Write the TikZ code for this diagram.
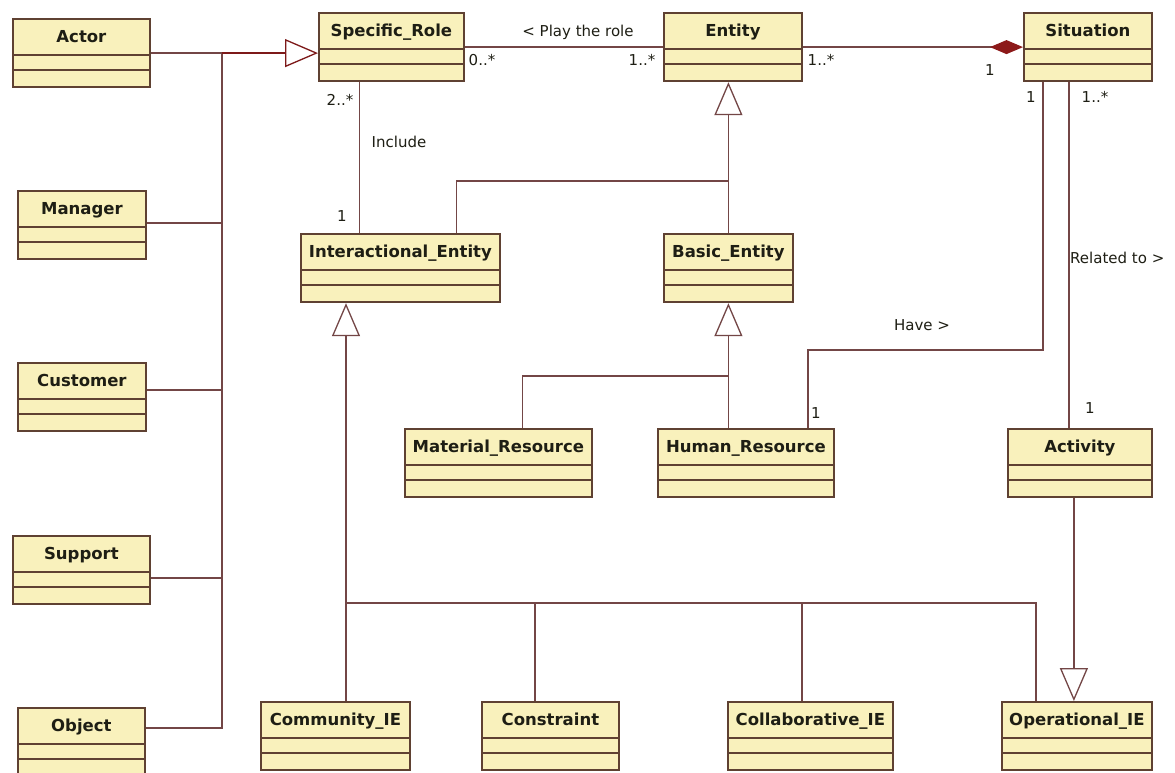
\documentclass[tikz,border=0pt]{standalone}
\usepackage{fontspec}
\setmainfont{DejaVu Sans}
\usetikzlibrary{arrows.meta, shapes.multipart}

\definecolor{fondo}{RGB}{249,241,188}
\definecolor{borde}{RGB}{95,65,50}
\definecolor{hilo}{RGB}{115,70,70}
\definecolor{comun}{RGB}{125,25,25}
\definecolor{rombo}{RGB}{140,25,25}
\definecolor{tinta}{RGB}{30,30,20}

\begin{document}
\begin{tikzpicture}[
    x=1pt, y=-1pt,
    clase/.style={rectangle split, rectangle split parts=3, draw=borde, fill=fondo,
      line width=1.8pt, inner xsep=0pt, inner ysep=0pt, anchor=north west,
      text=tinta, font=\bfseries\fontsize{16.5}{18}\selectfont},
    wire/.style={draw=hilo, line width=1.5pt},
    shared/.style={draw=comun, line width=2.2pt},
    gen/.style={wire, -{Triangle[open, length=33pt, width=28pt, line width=1.3pt]}},
    comp/.style={wire, -{Diamond[length=33pt, width=14pt, fill=rombo, color=rombo]}},
    etiq/.style={text=tinta, inner sep=0pt, font=\fontsize{15}{17}\selectfont}
  ]

    % --- Marco ---
    \useasboundingbox[fill=white] (0,0) rectangle (1175,772);

    % --- Clases ---
    \foreach \id/\x/\y/\w/\nombre in {
        actor/12/18/137/Actor,
        manager/17/190/128/Manager,
        customer/17/362/128/Customer,
        support/12/535/137/Support,
        object/17/707/127/Object,
        role/318/12/145/Specific\_Role,
        entity/663/12/138/Entity,
        situation/1023/12/128/Situation,
        inter/300/233/199/Interactional\_Entity,
        basic/663/233/129/Basic\_Entity,
        material/404/428/187/Material\_Resource,
        human/657/428/176/Human\_Resource,
        activity/1007/428/144/Activity,
        community/260/701/149/Community\_IE,
        constraint/481/701/137/Constraint,
        collab/727/701/165/Collaborative\_IE,
        operational/1001/701/150/Operational\_IE} {
      \node[clase, minimum width=\w pt] (\id) at (\x,\y)
        {\rule[-11pt]{0pt}{34pt}\nombre\nodepart{two}\rule{0pt}{13.5pt}\nodepart{three}\rule{0pt}{15.5pt}};
    }

    % --- Puntos de union ---
    \coordinate (busT) at (actor.east -| 222,0);
    \coordinate (jE) at (basic.north |- 0,181);
    \coordinate (jB) at (basic.south |- 0,376);
    \coordinate (jH) at (808,350);
    \coordinate (jI) at (346,603);

    % Generalizacion hacia Specific_Role
    \draw[wire] (actor.east) -- (busT);
    \foreach \n/\dy in {manager/2, customer/7, support/-8, object/14}
      \draw[wire] ([yshift=\dy pt]\n.east) -| (busT);
    \draw[gen, shared] (busT) -- (busT -| role.west);

    % Asociaciones de la fila superior
    \draw[wire] (role.east) -- (entity.west);
    \draw[comp] (entity.east) -- (situation.west);

    % Include
    \draw[wire] ([xshift=-32pt]role.south) -- ([xshift=-32pt]role.south |- inter.north);

    % Generalizacion hacia Entity
    \draw[wire] ([xshift=56pt]inter.north) |- (jE);
    \draw[gen] (basic.north) -- (jE) -- (jE |- entity.south);

    % Generalizacion hacia Basic_Entity
    \draw[wire] ([xshift=24pt]material.north) |- (jB);
    \draw[gen] (human.north -| jB) -- (jB) -- (basic.south);

    % Have y Related to
    \draw[wire] (human.north -| jH) -- (jH) -| ([xshift=-45pt]situation.south);
    \draw[wire] ([xshift=-19pt]situation.south) -- ([xshift=-19pt]situation.south |- activity.north);

    % Generalizacion hacia Operational_IE
    \draw[gen] ([xshift=-6pt]activity.south) -- ([xshift=-6pt]activity.south |- operational.north);

    % Generalizacion hacia Interactional_Entity
    \draw[gen] (community.north -| jI) -- (jI |- inter.south);
    \foreach \n/\dx in {constraint/-15.5, collab/-8.5, operational/-41}
      \draw[wire] ([xshift=\dx pt]\n.north) |- (jI);

    % --- Etiquetas ---
    \node[etiq] (lPlay) at (578,32) {< Play the role};
    \node[etiq] (mRole) at (482,60) {0..*};
    \node[etiq] (mEnt) at (642,60) {1..*};
    \node[etiq] (mEnt2) at (821,60) {1..*};
    \node[etiq] (mSit) at (990,70) {1};
    \node[etiq] (mRole2) at (340,100) {2..*};
    \node[etiq] (lInc) at (399,142) {Include};
    \node[etiq] (mInt) at (342,216) {1};
    \node[etiq] (mSit2) at (1031,97) {1};
    \node[etiq] (mSit3) at (1095,97) {1..*};
    \node[etiq, anchor=west] (lRel) at (1070,258) {Related to >};
    \node[etiq] (lHave) at (922,325) {Have >};
    \node[etiq] (mHum) at (816,413) {1};
    \node[etiq] (mAct) at (1090,408) {1};

  \end{tikzpicture}
\end{document}
